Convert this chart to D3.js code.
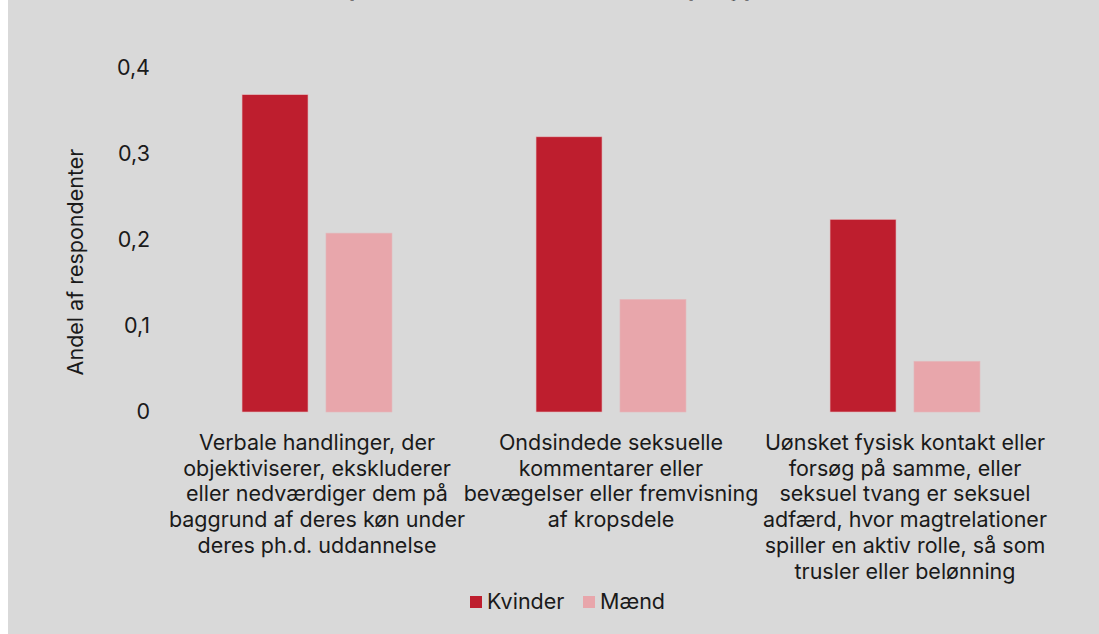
<!DOCTYPE html>
<html>
<head>
<meta charset="utf-8">
<script src="https://cdn.jsdelivr.net/npm/d3@7"></script>
<style>
  body { margin: 0; background: #fff; }
  text { font-family: Inter, "Noto Sans", sans-serif; fill: #1a1a1a; }
</style>
</head>
<body>
<svg></svg>
<script>
let width = 1099, height = 634;

// data
const titleText = "Oplevet seksuel chikane fordelt på type";
const yTitle = "Andel af respondenter";
const categories = ["Verbale", "Ondsindede", "Uønsket"];
const categoryLines = [
    ["Verbale handlinger, der", "objektiviserer, ekskluderer", "eller nedværdiger dem på", "baggrund af deres køn under", "deres ph.d. uddannelse"],
    ["Ondsindede seksuelle", "kommentarer eller", "bevægelser eller fremvisning", "af kropsdele"],
    ["Uønsket fysisk kontakt eller", "forsøg på samme, eller", "seksuel tvang er seksuel", "adfærd, hvor magtrelationer", "spiller en aktiv rolle, så som", "trusler eller belønning"]
];
const series = ["Kvinder", "Mænd"];
const kvinder = [0.369, 0.320, 0.224];
const maend = [0.208, 0.131, 0.059];
const yTicks = [0, 0.1, 0.2, 0.3, 0.4];

const rows = categories.map((c, i) => ({ cat: c, values: [kvinder[i], maend[i]] }));

const fontSize = "21.5px";

let svg = d3.select("svg")
    .attr("width", width)
    .attr("height", height);

// chart area background
svg.append("rect")
    .attr("x", 8).attr("y", 0)
    .attr("width", width - 8).attr("height", height)
    .attr("fill", "#d9d9d9");

// title, sits mostly above the visible area (only descenders show)
let title = svg.append("text")
    .attr("x", 326)
    .attr("y", -4)
    .style("font-size", "24px")
    .style("font-weight", "700")
    .text(titleText);

// fit title so the descenders land where the reference has them
let tNode = title.node();
let p1 = tNode.getStartPositionOfChar(titleText.indexOf("p")).x;
let p2 = tNode.getStartPositionOfChar(titleText.indexOf("på")).x;
let fs = 24 * 339 / (p2 - p1);
title.style("font-size", fs + "px");
p1 = tNode.getStartPositionOfChar(titleText.indexOf("p")).x;
title.attr("x", 326 + (349 - p1));

let color = d3.scaleOrdinal()
    .domain(series)
    .range(["#be1e2e", "#e8a6ab"]);

let y = d3.scaleLinear()
    .domain([0, 0.4])
    .range([412, 68]);

let x0 = d3.scaleBand()
    .domain(categories)
    .range([170, 1052])
    .paddingInner(0.49)
    .paddingOuter(0.245);

let x1 = d3.scaleBand()
    .domain(series)
    .range([0, x0.bandwidth()])
    .paddingInner(0.214)
    .paddingOuter(0);

const locale = d3.formatLocale({ decimal: ",", thousands: ".", grouping: [3], currency: ["", " kr."] });
const fmt = locale.format(".1~f");

// y axis (labels only)
let yAxis = svg.append("g")
    .attr("transform", "translate(150,0)")
    .call(d3.axisLeft(y).tickValues(yTicks).tickFormat(fmt).tickSize(0).tickPadding(0));
yAxis.select(".domain").remove();
yAxis.selectAll("text")
    .style("font-family", "Inter, sans-serif")
    .style("font-size", fontSize)
    .attr("fill", "#1a1a1a");

// y axis title
svg.append("text")
    .attr("transform", "translate(83,262) rotate(-90)")
    .attr("text-anchor", "middle")
    .style("font-size", fontSize)
    .text(yTitle);

// bars
let groups = svg.append("g")
    .selectAll("g")
    .data(rows)
    .enter()
    .append("g")
    .attr("transform", d => "translate(" + x0(d.cat) + ",0)");

groups.selectAll("rect")
    .data(d => d.values.map((v, i) => ({ key: series[i], value: v })))
    .enter()
    .append("rect")
    .attr("x", d => x1(d.key))
    .attr("y", d => y(d.value))
    .attr("width", x1.bandwidth())
    .attr("height", d => y(0) - y(d.value))
    .attr("fill", d => color(d.key))
    .attr("stroke", "#e3b9bd")
    .attr("stroke-width", 0.6);

// category axis
let xAxis = svg.append("g")
    .attr("transform", "translate(0,412)")
    .call(d3.axisBottom(x0).tickSize(0).tickFormat(""));
xAxis.select(".domain").remove();
xAxis.selectAll(".tick text").remove();
xAxis.selectAll(".tick")
    .append("text")
    .attr("text-anchor", "middle")
    .style("font-family", "Inter, sans-serif")
    .style("font-size", fontSize)
    .attr("fill", "#1a1a1a")
    .each(function (d, i) {
        d3.select(this).selectAll("tspan")
            .data(categoryLines[i])
            .enter()
            .append("tspan")
            .attr("x", 0)
            .attr("y", (l, j) => 38 + j * 25.7)
            .text(l => l);
    });

// legend
let legend = svg.append("g")
    .attr("transform", "translate(470,596)");

let legendX = [0, 113];
let item = legend.selectAll("g")
    .data(series)
    .enter()
    .append("g")
    .attr("transform", (d, i) => "translate(" + legendX[i] + ",0)");

item.append("rect")
    .attr("width", 12)
    .attr("height", 12)
    .attr("fill", d => color(d));

item.append("text")
    .attr("x", 17)
    .attr("y", 13)
    .style("font-size", fontSize)
    .text(d => d);
</script>
</body>
</html>
